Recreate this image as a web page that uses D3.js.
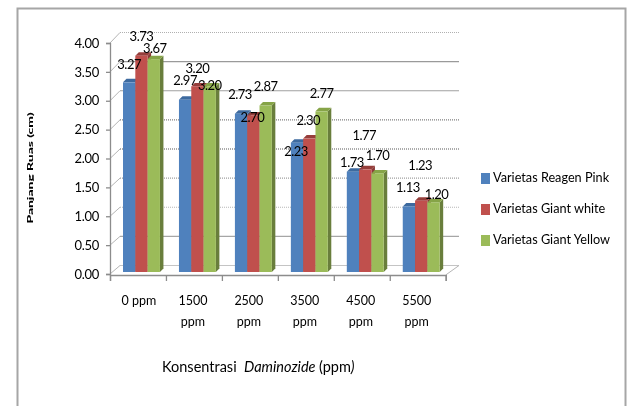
<!DOCTYPE html>
<html><head><meta charset="utf-8">
<script src="https://cdn.jsdelivr.net/npm/d3@7"></script>
<style>
html,body{margin:0;padding:0;background:#fff}
svg{display:block;filter:blur(0.4px)}
text{font-family:Lato,"Open Sans",sans-serif;fill:#000}
</style></head><body>
<svg id="c" width="627" height="406"></svg>
<script>
const categories = ["0 ppm","1500 ppm","2500 ppm","3500 ppm","4500 ppm","5500 ppm"];
const seriesNames = ["Varietas Reagen Pink","Varietas Giant white","Varietas Giant Yellow"];
const reagenPink = [3.27,2.97,2.73,2.23,1.73,1.13];
const giantWhite = [3.73,3.20,2.70,2.30,1.77,1.23];
const giantYellow = [3.67,3.20,2.87,2.77,1.70,1.20];
const yTicks = [0,0.5,1,1.5,2,2.5,3,3.5,4];

// layout (not data)
const colors = ["#4f81bd","#c0504d","#9bbb59"];
const topColors = ["#3d6a9f","#963e3b","#86a447"];
const gridDash = {0:null,0.5:null,1:"1 1",1.5:"1 1",2:"1 1",2.5:"1 1",3:null,3.5:null,4:"1 1"};
const gridCol = {0:"#c4c4c4",0.5:"#a6a6a6",1:"#b8b8b8",1.5:"#a0a0a0",2:"#909090",2.5:"#808080",3:"#a0a0a0",3.5:"#9a9a9a",4:"#b0b0b0"};
// label centre offset from the bar's top-centre, dx,dy per series per category
const labelNudge = [
 [[0,-17],[0,-18],[-1,-18],[-1,10],[-1,-8],[-1,-17.5]],
 [[0,-18],[0,-17],[-1,3],[-1,-17],[-1,-33],[-1,-34]],
 [[1,-9],[0,0],[0,-17.5],[0,-17],[0,-17],[3,-7]]
];

const svg = d3.select("#c");
const capX = 3.5, capY = 3.5;

svg.append("rect").attr("x",17.5).attr("y",8.5).attr("width",608).attr("height",420)
   .attr("fill","#fff").attr("stroke","#a6a6a6").attr("stroke-width",2);

const y = d3.scaleLinear().domain([0,4]).range([274,43]);
const yBack = d3.scaleLinear().domain([0,4]).range([265,32]);
const yBar = d3.scaleLinear().domain([0,4]).range([272,40]);
const xAxisScale = d3.scalePoint().domain(d3.range(categories.length+1)).range([110,445.7]);
const x0 = d3.scaleBand().domain(categories).range([113.5,449.2]).paddingInner(0.34).paddingOuter(0.17);
const x1 = d3.scaleBand().domain(d3.range(3)).range([0,x0.bandwidth()]);

// walls / grid
const grid = svg.append("g");
yTicks.forEach(t=>{
  grid.append("line").attr("x1",120).attr("x2",459).attr("y1",yBack(t)+.5).attr("y2",yBack(t)+.5)
    .attr("stroke",gridCol[t]).attr("stroke-width",t===2.5||t===2?1.4:1.1).attr("stroke-dasharray",gridDash[t]);
  grid.append("line").attr("x1",110).attr("x2",120).attr("y1",y(t)).attr("y2",yBack(t)+.5)
    .attr("stroke","#b5b5b5").attr("stroke-width",1);
});
grid.append("line").attr("x1",445.7).attr("x2",459).attr("y1",275).attr("y2",265.5).attr("stroke","#b5b5b5");

// bars
const allSeries = [reagenPink,giantWhite,giantYellow];
const bars = svg.append("g");
categories.forEach((c,ci)=>{
  allSeries.forEach((vals,si)=>{
    const v = vals[ci], bx = x0(c)+x1(si), bw = x1.bandwidth(), ty = yBar(v), by = yBar(0);
    const g = bars.append("g");
    g.append("polygon").attr("fill",d3.color(colors[si]).darker(si===2?1.1:.9))
      .attr("points",[[bx+bw,ty],[bx+bw+capX,ty-capY],[bx+bw+capX,by-capY],[bx+bw,by]].join(" "));
    g.append("polygon").attr("fill",topColors[si])
      .attr("points",[[bx,ty],[bx+capX,ty-capY],[bx+bw+capX,ty-capY],[bx+bw,ty]].join(" "));
    g.append("rect").attr("x",bx).attr("y",ty).attr("width",bw).attr("height",by-ty).attr("fill",colors[si]);
  });
});

// axes
const yAxis = svg.append("g").attr("transform","translate(110,0)")
  .call(d3.axisLeft(y).tickValues(yTicks).tickFormat(d3.format(".2f")).tickSize(4).tickPadding(7));
yAxis.selectAll("text").style("font-size","13px").style("letter-spacing","-0.3px");
const xAxis = svg.append("g").attr("transform","translate(0,275)")
  .call(d3.axisBottom(xAxisScale).tickSize(6).tickFormat(""));
[yAxis,xAxis].forEach(a=>{
  a.selectAll(".domain").attr("stroke","#8c8c8c").attr("stroke-width",1.3);
  a.selectAll(".tick line").attr("stroke","#8c8c8c").attr("stroke-width",1.3);
});

// category labels
const catCenter = d3.scaleBand().domain(categories).range([110,445.7]);
categories.forEach(c=>{
  const parts = c==="0 ppm" ? [c] : c.split(" ");
  parts.forEach((p,i)=>{
    svg.append("text").attr("x",catCenter(c)+catCenter.bandwidth()/2+(c==="0 ppm"?1:-1)).attr("y",302+i*21)
      .attr("text-anchor","middle").attr("dominant-baseline","middle").style("font-size","12.5px").text(p);
  });
});

// data labels
allSeries.forEach((vals,si)=>{
  vals.forEach((v,ci)=>{
    const c = categories[ci];
    const cx = x0(c)+x1(si)+x1.bandwidth()/2, ty = yBar(v);
    const [dx,dy] = labelNudge[si][ci];
    svg.append("text").attr("x",cx+dx).attr("y",ty+dy)
      .attr("text-anchor","middle").attr("dominant-baseline","middle")
      .style("font-size","13px").style("letter-spacing","-0.5px").text(d3.format(".2f")(v));
  });
});

// legend
seriesNames.forEach((n,i)=>{
  const ly = 178.5+i*31;
  svg.append("rect").attr("x",481).attr("y",ly-5.5).attr("width",9).attr("height",11).attr("fill",colors[i]);
  svg.append("text").attr("x",493).attr("y",ly+.5).attr("dominant-baseline","middle")
    .style("font-size","12.7px").text(n);
});

// axis titles
const title = svg.append("text").attr("x",162).attr("y",368).attr("dominant-baseline","middle")
  .style("font-size","14.5px").attr("xml:space","preserve").style("white-space","pre");
title.append("tspan").text("Konsentrasi  ");
title.append("tspan").style("font-style","italic").text("Daminozide ");
title.append("tspan").text("(ppm");
title.append("tspan").style("font-style","italic").text(")");

svg.append("text").attr("transform","translate(31,168) rotate(-90) scale(1.85,1)").attr("text-anchor","middle")
  .attr("dominant-baseline","middle").style("font-size","7.5px").style("font-weight","900")
  .text("Panjang Ruas (cm)");
</script>
</body></html>
